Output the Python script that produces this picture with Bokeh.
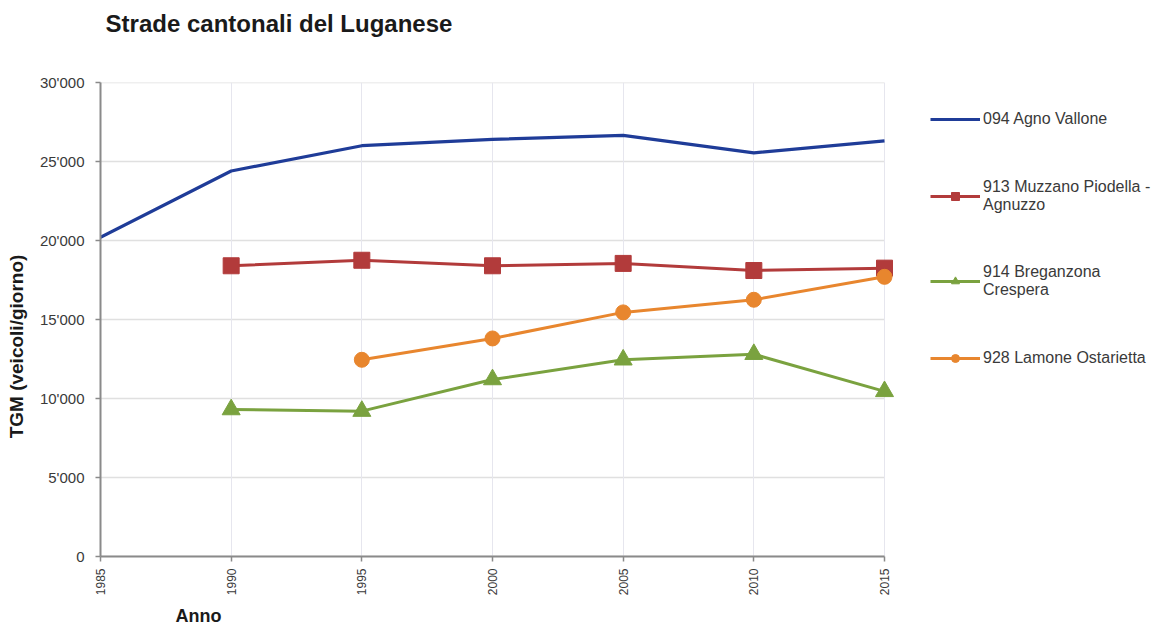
import math
from bokeh.plotting import figure
from bokeh.models import (Range1d, FixedTicker, CustomJSTickFormatter, Legend,
                          LegendItem, ColumnDataSource, LinearAxis)
from bokeh.embed import file_html
from bokeh.resources import INLINE

# ---------------- data ----------------
title_text = "Strade cantonali del Luganese"
y_label = "TGM (veicoli/giorno)"
x_label = "Anno"
year_ticks = [1985, 1990, 1995, 2000, 2005, 2010, 2015]
value_ticks = [0, 5000, 10000, 15000, 20000, 25000, 30000]

series_names = ["094 Agno Vallone",
                "913 Muzzano Piodella -\nAgnuzzo",
                "914 Breganzona\nCrespera",
                "928 Lamone Ostarietta"]

years_094 = [1985, 1990, 1995, 2000, 2005, 2010, 2015]
tgm_094 = [20200, 24400, 26000, 26400, 26650, 25550, 26300]

years_913 = [1990, 1995, 2000, 2005, 2010, 2015]
tgm_913 = [18400, 18750, 18400, 18550, 18100, 18250]

years_914 = [1990, 1995, 2000, 2005, 2010, 2015]
tgm_914 = [9300, 9200, 11200, 12450, 12800, 10450]

years_928 = [1995, 2000, 2005, 2010, 2015]
tgm_928 = [12450, 13800, 15450, 16250, 17700]

# ---------------- layout (pixels) ----------------
W, H = 1165, 628
PLOT_L, PLOT_R, PLOT_T, PLOT_B = 100, 884, 82, 556   # drawn chart area
px_per_year = (PLOT_R - PLOT_L) / (year_ticks[-1] - year_ticks[0])
x_end = year_ticks[0] + (W - PLOT_L) / px_per_year   # frame runs to the right edge (legend lives there)

def year_at(px):
    return year_ticks[0] + (px - PLOT_L) / px_per_year

def value_at(py):
    return value_ticks[-1] * (PLOT_B - py) / (PLOT_B - PLOT_T)

# ---------------- styling ----------------
FONT = "Liberation Sans"
BLUE = "#1f3c98"
RED = "#b23b3b"
GREEN = "#7aa23f"
ORANGE = "#e8862e"
AXIS = "#8a8a8a"
TXT = "#3a3a3a"
DARK = "#1a1a1a"

p = figure(width=W, height=H, output_backend="svg", toolbar_location=None,
           x_range=Range1d(year_ticks[0], x_end),
           y_range=Range1d(value_ticks[0], value_ticks[-1]),
           min_border_left=PLOT_L, min_border_right=0, min_border_top=PLOT_T,
           min_border_bottom=H - PLOT_B)
p.outline_line_color = None
p.background_fill_color = "white"
p.border_fill_color = "white"

# axes
for ax in (p.xaxis[0], p.yaxis[0]):
    ax.axis_line_color = AXIS
    ax.axis_line_width = 2
    ax.major_tick_line_color = AXIS
    ax.major_tick_line_width = 1.5
    ax.major_tick_out = 5
    ax.major_tick_in = 0
    ax.minor_tick_out = 0
    ax.minor_tick_in = 0
    ax.major_label_text_font = FONT
    ax.major_label_text_color = TXT

p.xaxis.ticker = FixedTicker(ticks=year_ticks)
p.xaxis.bounds = (year_ticks[0], year_ticks[-1])
p.xaxis.major_label_orientation = math.pi / 2
p.xaxis.major_label_text_font_size = "12px"
p.xaxis.major_label_standoff = 7

p.yaxis.ticker = FixedTicker(ticks=value_ticks)
p.yaxis.bounds = (value_ticks[0], value_ticks[-1])
p.yaxis.major_label_text_font_size = "15px"
p.yaxis.major_label_standoff = 11
p.yaxis.formatter = CustomJSTickFormatter(
    code="return tick.toFixed(0).replace(/\\B(?=(\\d{3})+(?!\\d))/g, \"'\");")

def text_axis(text, tick, size, standoff, vertical=False):
    ax = LinearAxis(ticker=FixedTicker(ticks=[tick]),
                    formatter=CustomJSTickFormatter(args=dict(t=text), code="return t;"))
    ax.axis_line_color = None
    ax.major_tick_line_color = None
    ax.minor_tick_line_color = None
    if vertical:
        ax.major_label_orientation = "vertical"
    ax.major_label_standoff = standoff
    ax.major_label_text_font = FONT
    ax.major_label_text_font_size = size
    ax.major_label_text_font_style = "bold"
    ax.major_label_text_color = DARK
    return ax

# title (left edge at x=105) and axis titles
title_axis = text_axis(title_text, year_at(105 + 347 / 2), "24px", 40)
p.add_layout(title_axis, "above")
p.add_layout(text_axis(y_label, value_at(346), "19px", 4, vertical=True), "left")
p.add_layout(text_axis(x_label, year_at(198), "18px", 1), "below")

# grid
p.xgrid.ticker = FixedTicker(ticks=year_ticks)
p.xgrid.grid_line_color = "#e6e6ee"
p.xgrid.grid_line_width = 1
p.ygrid.visible = False
p.segment(x0=year_ticks[0], x1=year_ticks[-1], y0=value_ticks, y1=value_ticks,
          line_color="#e0e0e0", line_width=1.3, level="underlay")

# series
r094 = p.line(years_094, tgm_094, line_color=BLUE, line_width=3.2)

r913 = p.line(years_913, tgm_913, line_color=RED, line_width=3)
p.scatter(years_913, tgm_913, marker="square", size=16,
          fill_color=RED, line_color=RED)

r914 = p.line(years_914, tgm_914, line_color=GREEN, line_width=3)
p.scatter(years_914, tgm_914, marker="triangle", size=18,
          fill_color=GREEN, line_color=GREEN)

r928 = p.line(years_928, tgm_928, line_color=ORANGE, line_width=3)
p.scatter(years_928, tgm_928, marker="circle", size=15,
          fill_color=ORANGE, line_color=ORANGE)

# small legend markers (no data drawn)
empty = dict(x=[float("nan")], y=[float("nan")])
lm913 = p.scatter("x", "y", source=ColumnDataSource(empty), marker="square",
                  size=8, fill_color=RED, line_color=RED)
lm914 = p.scatter("x", "y", source=ColumnDataSource(empty), marker="triangle",
                  size=8, fill_color=GREEN, line_color=GREEN)
lm928 = p.scatter("x", "y", source=ColumnDataSource(empty), marker="circle",
                  size=7, fill_color=ORANGE, line_color=ORANGE)

LEG_TOP = 101
LEG_H = 4 * 30 + 3 * 49
legend = Legend(items=[
    LegendItem(label=series_names[0], renderers=[r094]),
    LegendItem(label=series_names[1], renderers=[r913, lm913]),
    LegendItem(label=series_names[2], renderers=[r914, lm914]),
    LegendItem(label=series_names[3], renderers=[r928, lm928]),
], location=(930 - PLOT_L, PLOT_B - LEG_TOP - LEG_H))
legend.label_text_font = FONT
legend.label_text_font_size = "16px"
legend.label_text_line_height = 1.25
legend.label_text_color = TXT
legend.glyph_width = 50
legend.glyph_height = 20
legend.label_standoff = 3
legend.spacing = 49
legend.padding = 0
legend.margin = 0
legend.border_line_alpha = 0
legend.background_fill_alpha = 0
p.add_layout(legend, "center")

open("out.html", "w").write(file_html(p, INLINE))
